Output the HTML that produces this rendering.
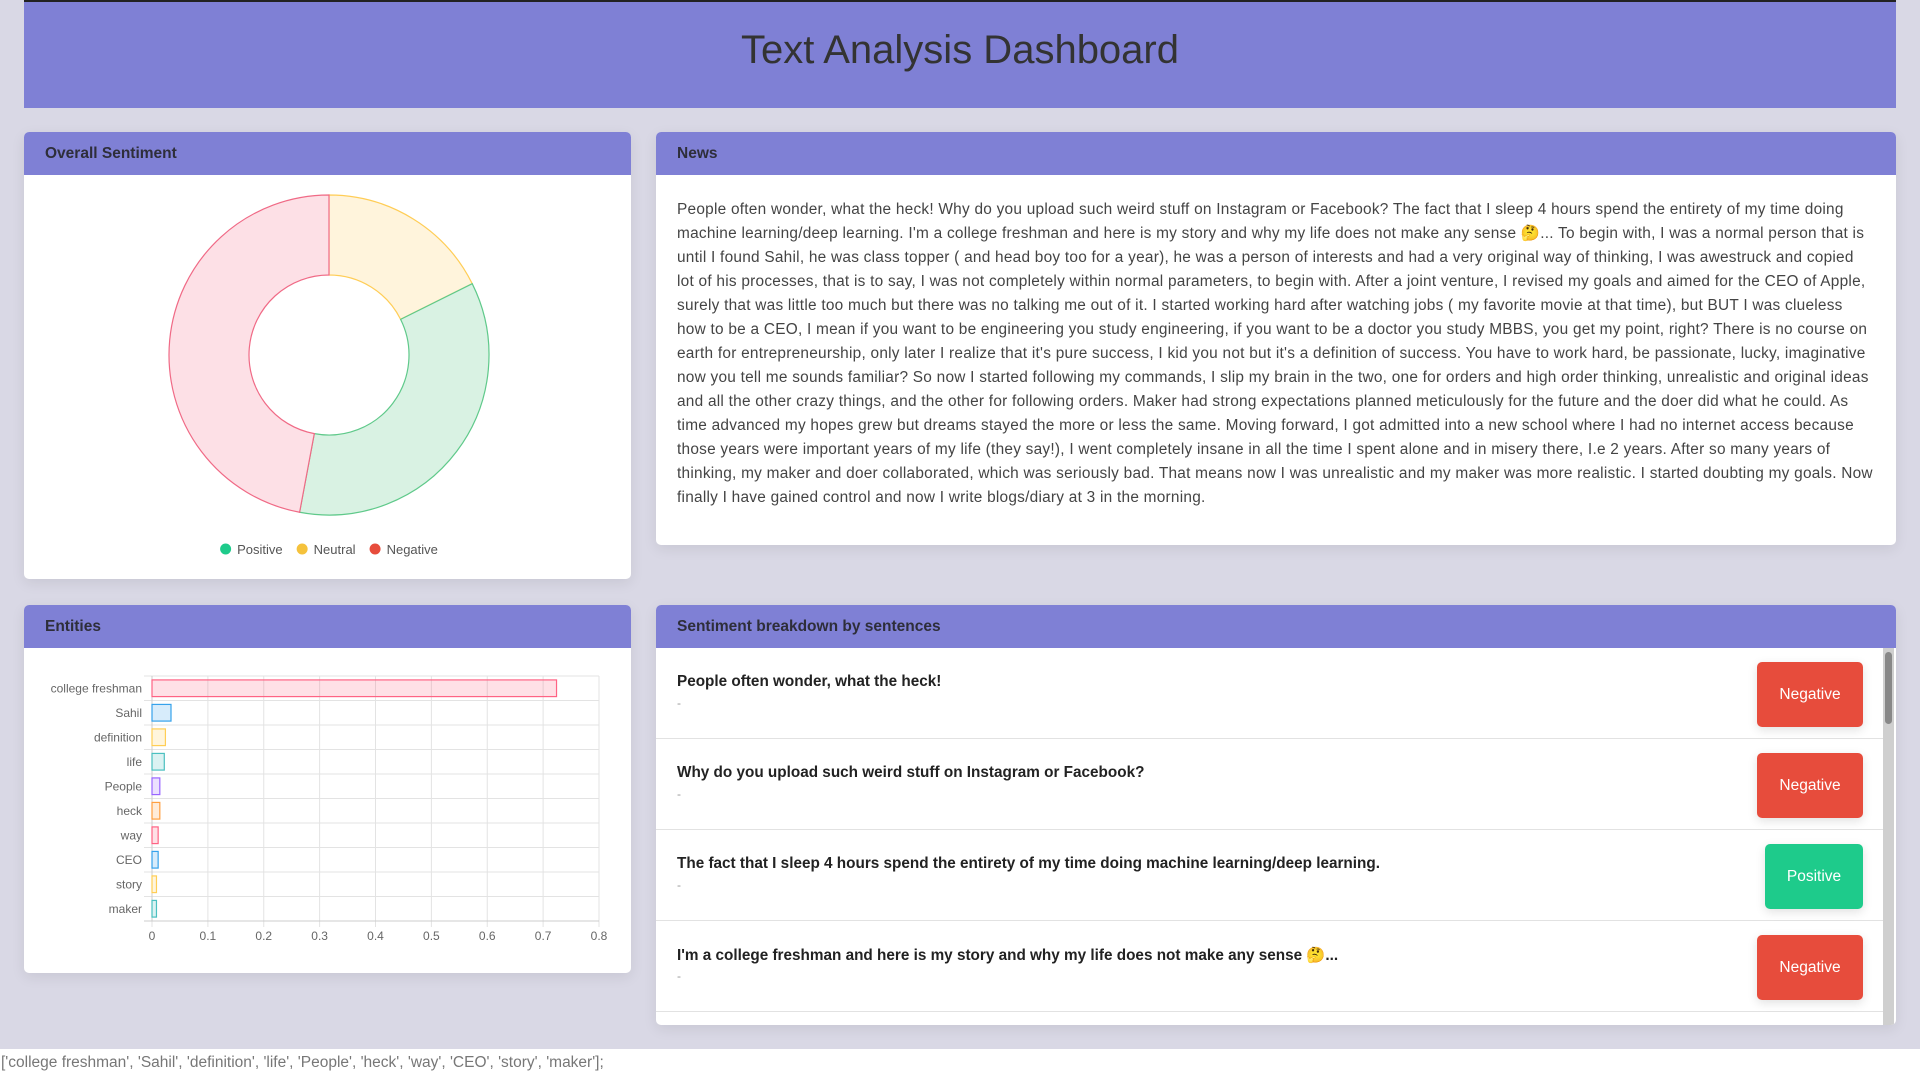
<!DOCTYPE html>
<html><head><meta charset="utf-8">
<style>
*{box-sizing:border-box;margin:0;padding:0}
body{width:1920px;height:1080px;background:#d9d8e5;font-family:"Liberation Sans","Noto Sans CJK SC",sans-serif;position:relative;overflow:hidden;color:#333}
.top{position:absolute;left:24px;top:0;width:1872px;height:108px;background:#7f80d5;border-top:2px solid #222}
.top h1{font-weight:normal;font-size:40px;text-align:center;line-height:96px;color:#333}
.card{position:absolute;background:#fff;border-radius:5px;box-shadow:0 4px 14px rgba(0,0,0,.08);overflow:hidden}
.card .hd{height:43px;background:#7f80d5;font-weight:bold;font-size:15.5px;line-height:43px;padding-left:21px;color:#2e2e3a}
.news{padding:23px 21px 0 21px;font-size:15.4px;letter-spacing:0.25px;line-height:24px;color:#444}
.row{position:absolute;left:0;width:1227px;height:91px;border-bottom:1.5px solid #e2e2e2}
.row .t{position:absolute;left:21px;top:25px;font-weight:bold;font-size:15.3px;color:#222}
.row .d{position:absolute;left:21px;top:48px;font-size:12px;color:#999}
.btn{position:absolute;top:14px;right:20px;height:65px;border-radius:5px;color:#fff;font-size:15.5px;line-height:65px;text-align:center;box-shadow:0 3px 10px rgba(0,0,0,.12)}
.neg{background:#e74c3c;width:106px}.pos{background:#1ecb8b;width:98px}
.foot{position:absolute;left:0;top:1049px;width:1920px;height:31px;background:#fff;font-size:15.5px;color:#777;padding:5px 0 0 1px}
</style></head><body>
<div class="top"><h1>Text Analysis Dashboard</h1></div>

<div class="card" style="left:24px;top:132px;width:607px;height:447px">
<div class="hd">Overall Sentiment</div>
<svg id="donut" width="607" height="404"></svg>
</div>

<div class="card" style="left:656px;top:132px;width:1240px;height:413px">
<div class="hd">News</div>
<div class="news">People often wonder, what the heck! Why do you upload such weird stuff on Instagram or Facebook? The fact that I sleep 4 hours spend the entirety of my time doing machine learning/deep learning. I'm a college freshman and here is my story and why my life does not make any sense 🤔... To begin with, I was a normal person that is until I found Sahil, he was class topper ( and head boy too for a year), he was a person of interests and had a very original way of thinking, I was awestruck and copied lot of his processes, that is to say, I was not completely within normal parameters, to begin with. After a joint venture, I revised my goals and aimed for the CEO of Apple, surely that was little too much but there was no talking me out of it. I started working hard after watching jobs ( my favorite movie at that time), but BUT I was clueless how to be a CEO, I mean if you want to be engineering you study engineering, if you want to be a doctor you study MBBS, you get my point, right? There is no course on earth for entrepreneurship, only later I realize that it's pure success, I kid you not but it's a definition of success. You have to work hard, be passionate, lucky, imaginative now you tell me sounds familiar? So now I started following my commands, I slip my brain in the two, one for orders and high order thinking, unrealistic and original ideas and all the other crazy things, and the other for following orders. Maker had strong expectations planned meticulously for the future and the doer did what he could. As time advanced my hopes grew but dreams stayed the more or less the same. Moving forward, I got admitted into a new school where I had no internet access because those years were important years of my life (they say!), I went completely insane in all the time I spent alone and in misery there, I.e 2 years. After so many years of thinking, my maker and doer collaborated, which was seriously bad. That means now I was unrealistic and my maker was more realistic. I started doubting my goals. Now finally I have gained control and now I write blogs/diary at 3 in the morning.</div>
</div>

<div class="card" style="left:24px;top:605px;width:607px;height:368px">
<div class="hd">Entities</div>
<svg id="bars" width="607" height="325"></svg>
</div>

<div class="card" style="left:656px;top:605px;width:1240px;height:420px">
<div class="hd">Sentiment breakdown by sentences</div>
<div style="position:absolute;left:0;top:43px;width:1240px;height:377px">
<div class="row" style="top:0"><div class="t">People often wonder, what the heck!</div><div class="d">-</div><div class="btn neg">Negative</div></div>
<div class="row" style="top:91px"><div class="t">Why do you upload such weird stuff on Instagram or Facebook?</div><div class="d">-</div><div class="btn neg">Negative</div></div>
<div class="row" style="top:182px"><div class="t">The fact that I sleep 4 hours spend the entirety of my time doing machine learning/deep learning.</div><div class="d">-</div><div class="btn pos">Positive</div></div>
<div class="row" style="top:273px"><div class="t">I'm a college freshman and here is my story and why my life does not make any sense 🤔...</div><div class="d">-</div><div class="btn neg">Negative</div></div>
<div style="position:absolute;left:1227px;top:0;width:11px;height:377px;background:#cfcfcf"><div style="position:absolute;left:2px;top:4px;width:7px;height:72px;background:#888;border-radius:4px"></div></div>
</div>
</div>

<div class="foot">['college freshman', 'Sahil', 'definition', 'life', 'People', 'heck', 'way', 'CEO', 'story', 'maker'];</div>

<script>
const NS="http://www.w3.org/2000/svg";
const sentLabels=["Neutral","Positive","Negative"];
const sentValues=[3,6,8];
const legendLabels=["Positive","Neutral","Negative"];
const entityLabels=['college freshman','Sahil','definition','life','People','heck','way','CEO','story','maker'];
const entityValues=[0.724,0.034,0.024,0.022,0.014,0.014,0.011,0.011,0.008,0.008];
const xTicks=[0,0.1,0.2,0.3,0.4,0.5,0.6,0.7,0.8];

function mk(p,tag,attrs){const e=document.createElementNS(NS,tag);for(const k in attrs)e.setAttribute(k,attrs[k]);p.appendChild(e);return e;}

// donut
const dn=document.getElementById('donut');
const sentFill={Neutral:"#fff4dc",Positive:"#d9f2e3",Negative:"#fde0e6"};
const sentStroke={Neutral:"#ffcd56",Positive:"#5fc98a",Negative:"#f06a86"};
const sentDot={Positive:"#1ecb8b",Neutral:"#f5c23c",Negative:"#e74c3c"};
const cx=305,cy=180,R=160,r=80;
const tot=sentValues.reduce((a,b)=>a+b,0);
let a0=-Math.PI/2;
sentValues.forEach((v,i)=>{
  const a1=a0+v/tot*2*Math.PI;const lg=(a1-a0)>Math.PI?1:0;
  const p=(rr,a)=>[cx+rr*Math.cos(a),cy+rr*Math.sin(a)];
  const [x0,y0]=p(R,a0),[x1,y1]=p(R,a1),[x2,y2]=p(r,a1),[x3,y3]=p(r,a0);
  const path=mk(dn,'path',{d:`M${x0},${y0}A${R},${R} 0 ${lg} 1 ${x1},${y1}L${x2},${y2}A${r},${r} 0 ${lg} 0 ${x3},${y3}Z`,fill:sentFill[sentLabels[i]],stroke:sentStroke[sentLabels[i]],'stroke-width':1.2});
  
  
  a0=a1;
});
const lg=mk(dn,'g',{});
let lx=0;
legendLabels.forEach(l=>{
  const g=mk(lg,'g',{});
  
  
  mk(g,'circle',{cx:lx+5.5,cy:374,r:5.5,fill:sentDot[l]});
  const t=mk(g,'text',{x:lx+17,y:379,'font-size':13,fill:'#555','font-family':'Liberation Sans, sans-serif'});t.textContent=l;
  lx+=17+t.getComputedTextLength()+14;
});
lg.setAttribute('transform','translate('+(cx-(lx-14)/2)+',0)');

// bars
const bs=document.getElementById('bars');
const X0=128,X1=575,Y0=28,Y1=273;
const xs=v=>X0+(v-xTicks[0])/(xTicks[xTicks.length-1]-xTicks[0])*(X1-X0);
const band=(Y1-Y0)/entityLabels.length;
const cf=["rgba(255,99,132,0.2)","rgba(54,162,235,0.2)","rgba(255,206,86,0.2)","rgba(75,192,192,0.2)","rgba(153,102,255,0.2)","rgba(255,159,64,0.2)"];
const cs=["rgb(255,99,132)","rgb(54,162,235)","rgb(255,206,86)","rgb(75,192,192)","rgb(153,102,255)","rgb(255,159,64)"];
xTicks.forEach(t=>{
  const x=xs(t);
  mk(bs,'line',{x1:x,y1:Y0,x2:x,y2:Y1+6,stroke:'#e3e3e3'});
  const tx=mk(bs,'text',{x:x,y:Y1+19,'text-anchor':'middle','font-size':12,fill:'#666','font-family':'Liberation Sans, sans-serif'});
  tx.textContent=t;
  
  
});
for(let i=0;i<=entityLabels.length;i++){const y=Y0+i*band;mk(bs,'line',{x1:X0-8,y1:y,x2:X1,y2:y,stroke:i==entityLabels.length?'#ccc':'#e3e3e3'});}
mk(bs,'line',{x1:X0,y1:Y0,x2:X0,y2:Y1,stroke:'#ccc'});
entityLabels.forEach((l,i)=>{
  const yc=Y0+(i+0.5)*band;
  const t=mk(bs,'text',{x:X0-10,y:yc+4,'text-anchor':'end','font-size':12,fill:'#666','font-family':'Liberation Sans, sans-serif'});
  t.textContent=l;
  
  
  const h=band*0.68;
  const b=mk(bs,'rect',{x:X0,y:yc-h/2,width:Math.max(0,xs(entityValues[i])-X0),height:h,fill:cf[i%6],stroke:cs[i%6],'stroke-width':1.2});
  
  
});
</script>
</body></html>
